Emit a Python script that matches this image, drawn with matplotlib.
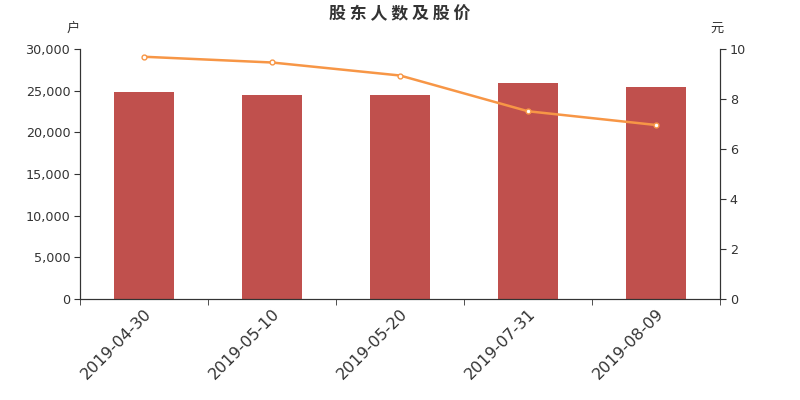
import matplotlib.pyplot as plt
import numpy as np

plt.rcParams['font.family'] = ['DejaVu Sans', 'Noto Sans CJK SC']

dates = ['2019-04-30', '2019-05-10', '2019-05-20', '2019-07-31', '2019-08-09']
holders = [24800, 24480, 24540, 25920, 25440]
price = [9.69, 9.46, 8.94, 7.51, 6.96]

fig = plt.figure(figsize=(8, 4), dpi=100)
ax = fig.add_axes([0.1, 0.2525, 0.8, 0.625])
ax2 = ax.twinx()

x = np.arange(len(dates))
ax.bar(x, holders, width=0.47, color='#c0504d', zorder=2)
ax2.plot(x, price, color='#f79646', lw=1.8, marker='o', ms=3.5,
         markerfacecolor='white', markeredgecolor='#f79646', markeredgewidth=1)

ax.set_xlim(-0.5, len(dates) - 0.5)
ax.set_ylim(0, 30000)
ax2.set_ylim(0, 10)
ax.set_yticks(range(0, 30001, 5000))
ax.set_yticklabels([f'{v:,}' for v in range(0, 30001, 5000)])
ax2.set_yticks(range(0, 11, 2))

ax.set_xticks(x)
ax.set_xticklabels(dates, rotation=45, ha='right', rotation_mode='anchor', fontsize=11.5, color='#333333')
ax.tick_params(axis='x', length=0, pad=5)
ax.set_xticks(np.arange(-0.5, len(dates), 1), minor=True)
ax.tick_params(axis='x', which='minor', length=4, color='#333333')

for a in (ax, ax2):
    a.spines['top'].set_visible(False)
    for s in ('left', 'right', 'bottom'):
        a.spines[s].set_color('#333333')
    a.tick_params(axis='y', labelsize=9.2, colors='#333333', length=4, pad=3)

ax.text(0.0, 1.055, '户', transform=ax.transAxes, ha='right', va='bottom', fontsize=9.5,
        color='#333333', family='Noto Sans CJK SC')
ax2.text(1.005, 1.055, '元', transform=ax.transAxes, ha='right', va='bottom', fontsize=9.5,
         color='#333333', family='Noto Sans CJK SC')
fig.text(0.5, 0.965, '股 东 人 数 及 股 价', ha='center', va='center', fontsize=12.2,
         fontweight='bold', color='#333333', family='Noto Sans CJK SC')

fig.savefig('out.png', dpi=100)
